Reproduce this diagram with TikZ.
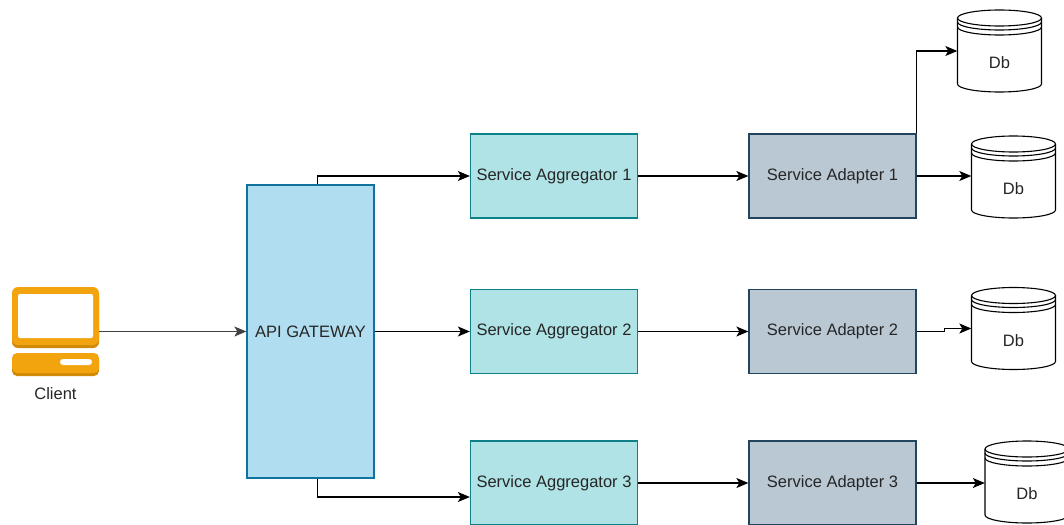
\documentclass[tikz,border=0pt]{standalone}
\usepackage{fontspec}
\setmainfont{Liberation Sans}
\usepackage{xcolor}
\usetikzlibrary{arrows.meta,positioning}

\definecolor{gatefill}{HTML}{B1DDF0}
\definecolor{gateline}{HTML}{10739E}
\definecolor{aggfill}{HTML}{B0E3E6}
\definecolor{aggline}{HTML}{0E8088}
\definecolor{adaptfill}{HTML}{BAC8D3}
\definecolor{adaptline}{HTML}{23445D}
\definecolor{clientorange}{HTML}{F2A40E}
\definecolor{clientshade}{HTML}{D08A08}
\definecolor{labelgray}{HTML}{262626}

% drum outline round a db node
\newcommand{\dbdrum}[1]{%
	\begin{scope}[shift={(#1.center)}]
		\filldraw[fill=white, line width=1.1pt] (-42,-33) -- (-42,33) arc[start angle=180, end angle=0, x radius=42, y radius=8] -- (42,-33);
		\draw[line width=1.1pt] (0,-33) ellipse[x radius=42, y radius=8];
		\draw[line width=1.1pt] (-42,-29) arc[start angle=180, end angle=0, x radius=42, y radius=8];
		\draw[line width=1.1pt] (-42,-24) arc[start angle=180, end angle=0, x radius=42, y radius=8];
	\end{scope}}

\begin{document}
\begin{tikzpicture}[x=1pt, y=-1pt,
	every node/.style={font=\fontsize{16.5}{19}\selectfont, text=labelgray},
	box/.style={draw, line width=1.3pt, minimum width=167pt, minimum height=84pt, inner sep=0pt},
	gatebox/.style={box, fill=gatefill, draw=gateline, minimum width=127pt, minimum height=293pt},
	aggbox/.style={box, fill=aggfill, draw=aggline},
	adaptbox/.style={box, fill=adaptfill, draw=adaptline},
	dbnode/.style={minimum width=84pt, minimum height=82pt, inner sep=0pt},
	conn/.style={line width=1.1pt, -{Stealth[length=12pt, width=10pt, inset=3pt]}}]
	\useasboundingbox (0,0) rectangle (1064,524);

	% client icon
	\fill[clientshade, rounded corners=6pt] (12,289) rectangle (99,348);
	\fill[clientorange, rounded corners=6pt] (12,287) rectangle (99,345);
	\fill[white, rounded corners=2pt] (18,294) rectangle (93,338);
	\fill[clientshade, rounded corners=5pt] (12,355) rectangle (99,376);
	\fill[clientorange, rounded corners=5pt] (12,353) rectangle (99,373);
	\fill[white, rounded corners=3pt] (60,359) rectangle (92,365);
	\node[minimum width=87pt, minimum height=89pt, inner sep=0pt, label={[label distance=8pt]below:Client}] (client) at (55.5,331.5) {};

	\node[gatebox] (gate) at (310.5,331.5) {API GATEWAY};

	\node[aggbox] (agg1) at (554,176) {Service Aggregator 1};
	\node[aggbox] (agg2) at (554,331.5) {Service Aggregator 2};
	\node[aggbox] (agg3) at (554,483) {Service Aggregator 3};

	\node[adaptbox] (adapt1) at (832.5,176) {Service Adapter 1};
	\node[adaptbox] (adapt2) at (832.5,331.5) {Service Adapter 2};
	\node[adaptbox] (adapt3) at (832.5,483) {Service Adapter 3};

	\node[dbnode] (db1) at (999.5,51) {};
	\node[dbnode] (db2) at (1013.5,177) {};
	\node[dbnode] (db3) at (1013.5,328.5) {};
	\node[dbnode] (db4) at (1027,482) {};
	\dbdrum{db1}
	\dbdrum{db2}
	\dbdrum{db3}
	\dbdrum{db4}
	\node[yshift=-12pt] (db1text) at (db1.center) {Db};
	\node[yshift=-12pt] (db2text) at (db2.center) {Db};
	\node[yshift=-12pt] (db3text) at (db3.center) {Db};
	\node[yshift=-12pt] (db4text) at (db4.center) {Db};

	\draw[conn, draw=black!75] (client.east) -- (gate.west);
	\draw[conn] ([xshift=7pt]gate.north) |- (agg1.west);
	\draw[conn] (gate.east) -- (agg2.west);
	\draw[conn] ([xshift=7pt]gate.south) |- ([yshift=-14pt]agg3.west);

	\draw[conn] (agg1.east) -- (adapt1.west);
	\draw[conn] (agg2.east) -- (adapt2.west);
	\draw[conn] (agg3.east) -- (adapt3.west);

	\draw[conn] (adapt1.north east) |- (db1.west);
	\draw[conn] (adapt1.east) -- (adapt1.east -| db2.west);
	\draw[conn] (adapt2.east) -- ++(28,0) |- (db3.west);
	\draw[conn] (adapt3.east) -- (adapt3.east -| db4.west);
\end{tikzpicture}
\end{document}
